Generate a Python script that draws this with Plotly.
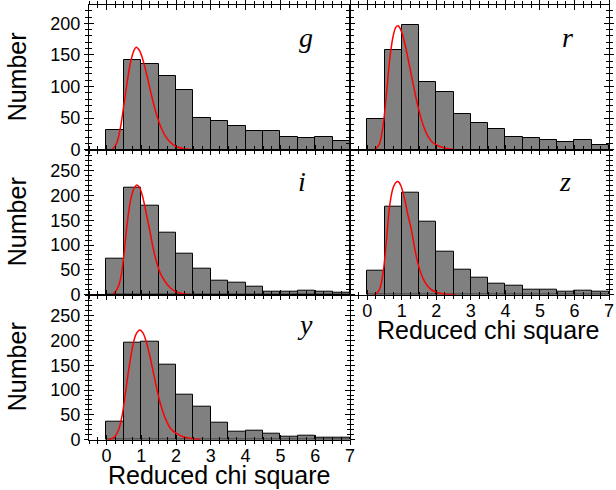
import plotly.graph_objects as go

W, H = 616, 490

# ---- data ----
bin_centers = [0.25, 0.75, 1.25, 1.75, 2.25, 2.75, 3.25, 3.75, 4.25, 4.75, 5.25, 5.75, 6.25, 6.75]
bin_width = 0.5

counts_g = [31, 142, 136, 117, 95, 50, 45, 38, 29, 29, 20, 18, 20, 13]
counts_r = [48, 158, 197, 107, 91, 57, 42, 33, 20, 18, 15, 12, 15, 7]
counts_i = [73, 215, 180, 124, 83, 52, 29, 25, 17, 7, 7, 9, 7, 4]
counts_z = [49, 177, 205, 148, 86, 50, 34, 23, 19, 11, 11, 7, 9, 6]
counts_y = [36, 196, 198, 152, 91, 66, 35, 17, 19, 13, 6, 9, 5, 5]

curve_x_g = [0.15, 0.2, 0.3, 0.4, 0.5, 0.6, 0.7, 0.8, 0.86, 0.95, 1.05, 1.15, 1.25, 1.35, 1.45, 1.55, 1.7, 1.85, 2.0, 2.2, 2.45]
curve_y_g = [0, 2, 11, 34, 70, 108, 140, 158, 162, 157, 142, 121, 97, 74, 54, 38, 21, 11, 5, 2, 0]

curve_x_r = [0.18, 0.25, 0.35, 0.45, 0.55, 0.65, 0.75, 0.83, 0.89, 0.97, 1.07, 1.17, 1.27, 1.37, 1.47, 1.6, 1.75, 1.9, 2.1, 2.3, 2.55]
curve_y_r = [0, 2, 9, 35, 85, 143, 180, 194, 196, 190, 172, 147, 120, 93, 68, 42, 22, 11, 5, 2, 0]

curve_x_i = [0.15, 0.2, 0.3, 0.4, 0.5, 0.6, 0.7, 0.8, 0.87, 0.95, 1.05, 1.15, 1.25, 1.35, 1.45, 1.55, 1.7, 1.85, 2.0, 2.2, 2.45]
curve_y_i = [0, 2, 10, 30, 78, 145, 192, 215, 221, 216, 195, 162, 128, 92, 64, 43, 25, 13, 6, 2, 0]

curve_x_z = [0.18, 0.25, 0.35, 0.45, 0.55, 0.65, 0.75, 0.83, 0.89, 0.97, 1.07, 1.17, 1.27, 1.37, 1.47, 1.6, 1.75, 1.9, 2.1, 2.3, 2.55]
curve_y_z = [0, 2, 10, 40, 105, 180, 216, 226, 228, 220, 196, 163, 133, 95, 62, 35, 17, 8, 3, 1, 0]

curve_x_y = [0.05, 0.15, 0.25, 0.35, 0.45, 0.55, 0.65, 0.75, 0.85, 0.96, 1.05, 1.15, 1.25, 1.35, 1.45, 1.55, 1.7, 1.85, 2.0, 2.2, 2.4, 2.7]
curve_y_y = [0, 2, 7, 20, 48, 95, 145, 186, 212, 221, 215, 196, 168, 135, 102, 73, 42, 22, 13, 6, 3, 0]

band_labels = ["g", "r", "i", "z", "y"]
x_range = [-0.5, 7]
x_tickvals = [0, 1, 2, 3, 4, 5, 6, 7]
y_range_top = [0, 229]
y_range_low = [0, 292]
y_tickvals_top = [0, 50, 100, 150, 200]
y_tickvals_low = [0, 50, 100, 150, 200, 250]
x_title = "Reduced chi square"
y_title = "Number"

# ---- layout geometry (pixels) ----
colL = (89, 350)
colR = (350, 609)
rowT = (5, 149.7)
rowM = (149.7, 294.7)
rowB = (294.7, 439.7)

def xd(c):
    return [c[0] / W, c[1] / W]

def yd(r):
    return [1 - r[1] / H, 1 - r[0] / H]

panels = [
    dict(counts=counts_g, cx=curve_x_g, cy=curve_y_g, col=colL, row=rowT, yr=y_range_top, yt=y_tickvals_top, xl=False, yl=True),
    dict(counts=counts_r, cx=curve_x_r, cy=curve_y_r, col=colR, row=rowT, yr=y_range_top, yt=y_tickvals_top, xl=False, yl=False),
    dict(counts=counts_i, cx=curve_x_i, cy=curve_y_i, col=colL, row=rowM, yr=y_range_low, yt=y_tickvals_low, xl=False, yl=True),
    dict(counts=counts_z, cx=curve_x_z, cy=curve_y_z, col=colR, row=rowM, yr=y_range_low, yt=y_tickvals_low, xl=True, yl=False),
    dict(counts=counts_y, cx=curve_x_y, cy=curve_y_y, col=colL, row=rowB, yr=y_range_low, yt=y_tickvals_low, xl=True, yl=True),
]

tickfont = dict(family="Liberation Sans, Arial, sans-serif", size=18, color="black")
fig = go.Figure()
layout = {}
N = len(panels)

def ax_name(kind, k):
    return kind + "axis" + ("" if k == 1 else str(k))

def ref(kind, k):
    return kind + ("" if k == 1 else str(k))

for idx, p in enumerate(panels):
    k = idx + 1
    ko = k + N
    fig.add_trace(go.Bar(x=bin_centers, y=p["counts"], width=bin_width,
                         marker=dict(color="#808080", line=dict(color="black", width=1)),
                         xaxis=ref("x", k), yaxis=ref("y", k), showlegend=False))
    fig.add_trace(go.Scatter(x=p["cx"], y=p["cy"], mode="lines",
                             line=dict(color="red", width=1.5, shape="spline"),
                             xaxis=ref("x", k), yaxis=ref("y", k), showlegend=False))
    fig.add_trace(go.Scatter(x=[None], y=[None], mode="lines",
                             xaxis=ref("x", ko), yaxis=ref("y", ko), showlegend=False,
                             hoverinfo="skip"))
    common = dict(showline=True, linecolor="black", linewidth=1, mirror="ticks",
                  showgrid=False, zeroline=False, tickcolor="black", tickwidth=1,
                  tickfont=tickfont, automargin=False)
    layout[ax_name("x", k)] = dict(common, domain=xd(p["col"]), range=x_range, anchor=ref("y", k),
                                   tickmode="array", tickvals=x_tickvals,
                                   ticks="inside", ticklen=5,
                                   minor=dict(dtick=0.25, tick0=0, ticks="inside", ticklen=3, tickcolor="black"),
                                   showticklabels=p["xl"])
    layout[ax_name("y", k)] = dict(common, domain=yd(p["row"]), range=p["yr"], anchor=ref("x", k),
                                   tickmode="array", tickvals=p["yt"],
                                   ticks="inside", ticklen=5,
                                   minor=dict(dtick=10, tick0=0, ticks="inside", ticklen=3, tickcolor="black"),
                                   showticklabels=p["yl"], ticklabelstandoff=4)
    layout[ax_name("x", ko)] = dict(common, overlaying=ref("x", k), range=x_range, anchor=ref("y", ko),
                                    tickmode="array", tickvals=x_tickvals,
                                    ticks="outside", ticklen=4,
                                    minor=dict(dtick=0.25, tick0=0, ticks="outside", ticklen=3, tickcolor="black"),
                                    showticklabels=False)
    layout[ax_name("y", ko)] = dict(common, overlaying=ref("y", k), range=p["yr"], anchor=ref("x", ko),
                                    tickmode="array", tickvals=p["yt"],
                                    ticks="outside", ticklen=4,
                                    minor=dict(dtick=10, tick0=0, ticks="outside", ticklen=3, tickcolor="black"),
                                    showticklabels=False)

annotations = []
titlefont = dict(family="Liberation Sans, Arial, sans-serif", size=25, color="black")
for r in (rowT, rowM, rowB):
    annotations.append(dict(text=y_title, xref="paper", yref="paper", x=17 / W,
                            y=1 - (r[0] + r[1]) / 2 / H, textangle=-90, showarrow=False,
                            font=titlefont, xanchor="center", yanchor="middle"))
annotations.append(dict(text=x_title, xref="paper", yref="paper", x=218.5 / W, y=1 - 475 / H,
                        showarrow=False, font=titlefont, xanchor="center", yanchor="middle"))
annotations.append(dict(text=x_title, xref="paper", yref="paper", x=487.5 / W, y=1 - 330 / H,
                        showarrow=False, font=titlefont, xanchor="center", yanchor="middle"))

letter_pos = [(306, 37), (567, 37), (302, 181), (565, 181), (305, 324)]
letterfont = dict(family="Liberation Serif, Times New Roman, serif", size=28, color="black")
for lab, (lx, ly) in zip(band_labels, letter_pos):
    annotations.append(dict(text="<i>" + lab + "</i>", xref="paper", yref="paper", x=lx / W, y=1 - ly / H,
                            showarrow=False, font=letterfont, xanchor="center", yanchor="middle"))

fig.update_layout(**layout)
fig.update_layout(template="none", width=W, height=H,
                  margin=dict(l=0, r=0, t=0, b=0, pad=0, autoexpand=False),
                  paper_bgcolor="white", plot_bgcolor="white", bargap=0,
                  annotations=annotations)

fig.write_html("out.html", config={"displayModeBar": False},
               post_script="document.body.style.margin='0';document.body.style.padding='0';")
